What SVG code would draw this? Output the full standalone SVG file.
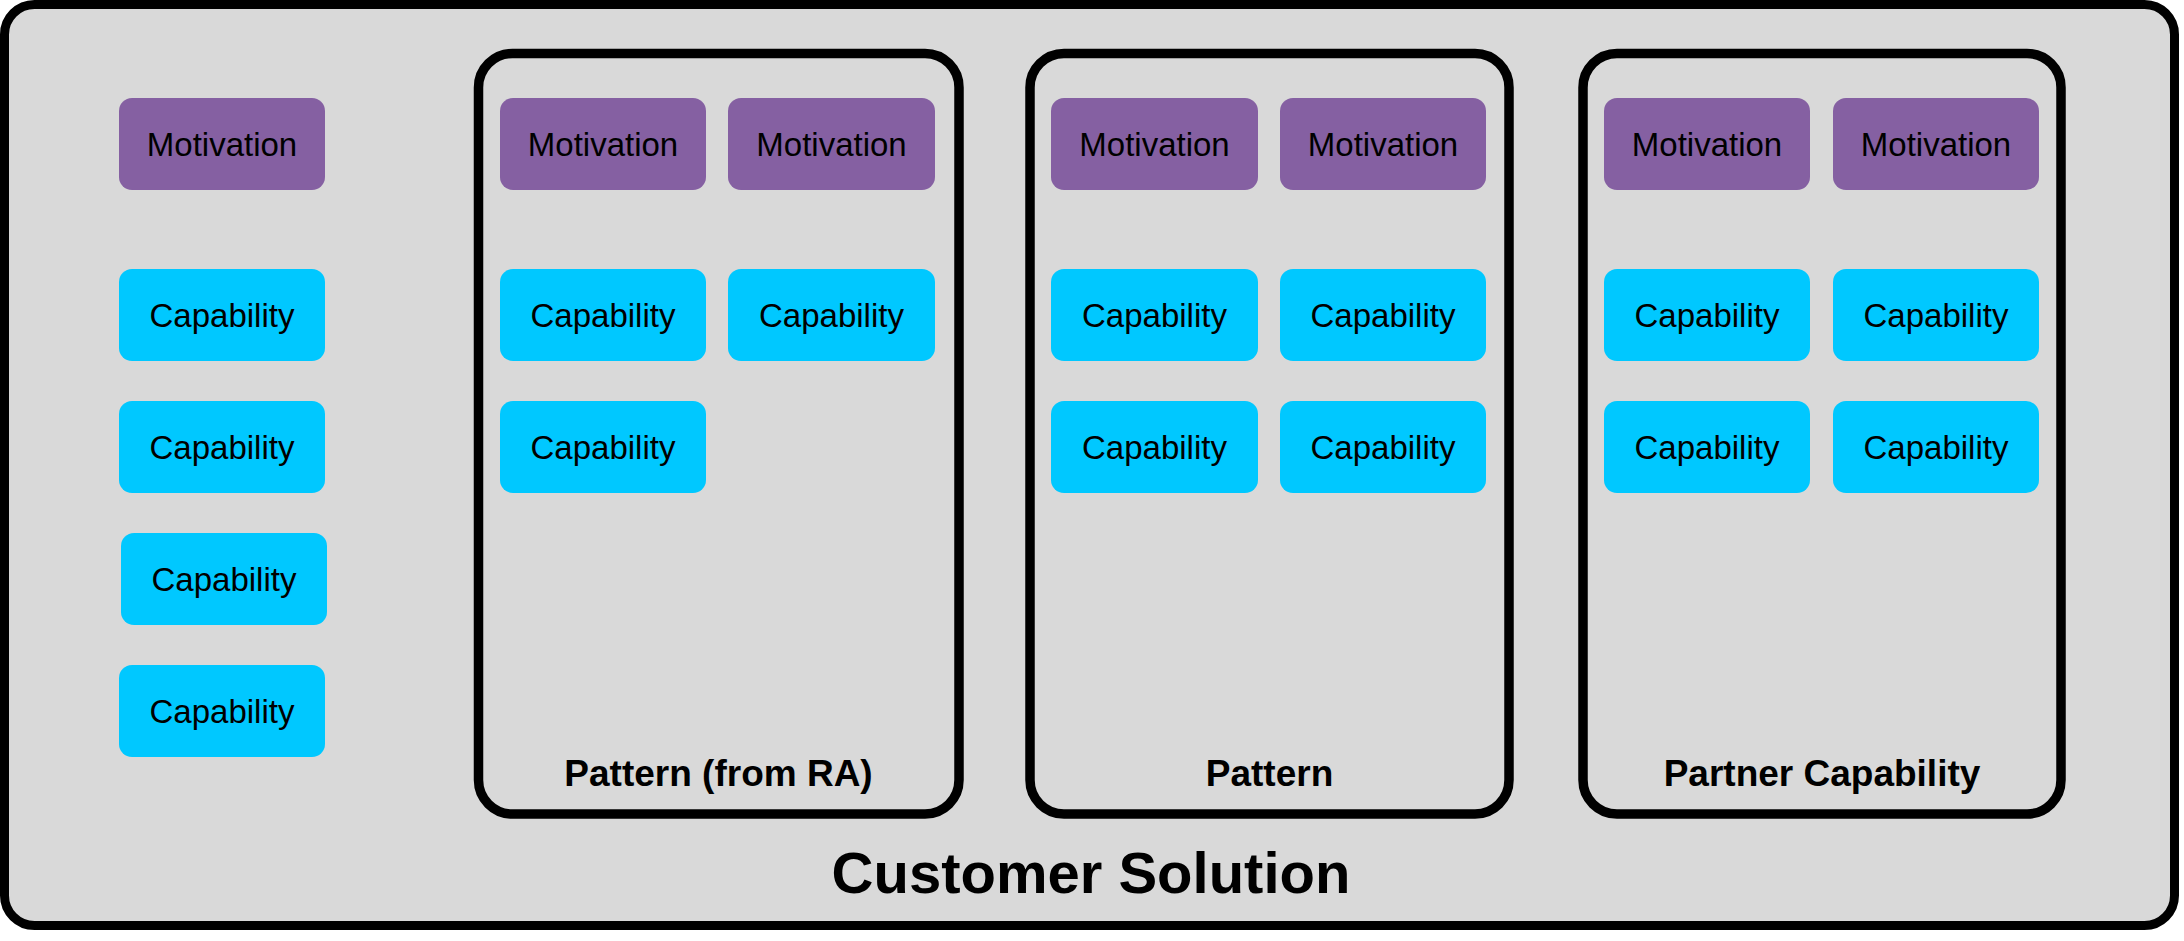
<svg xmlns="http://www.w3.org/2000/svg" width="2184" height="941" viewBox="0 0 2184 941">
<style>
.bg{fill:#ffffff}
.outer{fill:#d9d9d9;stroke:#000;stroke-width:9}
.grp{fill:none;stroke:#000;stroke-width:9.5}
.mot{fill:#8560a2}
.cap{fill:#00c8ff}
.t{font-family:"Liberation Sans",Arial,sans-serif;font-size:33px;fill:#000;text-anchor:middle}
.gl{font-family:"Liberation Sans",Arial,sans-serif;font-size:37px;font-weight:bold;fill:#000;text-anchor:middle}
.title{font-family:"Liberation Sans",Arial,sans-serif;font-size:58px;font-weight:bold;fill:#000;text-anchor:middle}
</style>
<rect class="bg" x="0" y="0" width="2184" height="941"/>
<g id="customer-solution">
<rect class="outer" x="4.5" y="4.5" width="2170" height="921" rx="30" ry="30"/>
<text class="title" x="1091" y="893">Customer Solution</text>
</g>
<g id="pattern-from-ra">
<rect class="grp" x="478.5" y="53.5" width="480.5" height="760.5" rx="34" ry="34"/>
<text class="gl" x="718.5" y="786">Pattern (from RA)</text>
</g>
<g id="pattern">
<rect class="grp" x="1030" y="53.5" width="479" height="760.5" rx="34" ry="34"/>
<text class="gl" x="1269.5" y="786">Pattern</text>
</g>
<g id="partner-capability">
<rect class="grp" x="1583" y="53.5" width="478" height="760.5" rx="34" ry="34"/>
<text class="gl" x="1822" y="786">Partner Capability</text>
</g>
<g id="left-motivation"><rect class="mot" x="119" y="98" width="206" height="92" rx="13"/><text class="t" x="222" y="156">Motivation</text></g>
<g id="left-cap-1"><rect class="cap" x="119" y="269" width="206" height="92" rx="13"/><text class="t" x="222" y="327">Capability</text></g>
<g id="left-cap-2"><rect class="cap" x="119" y="401" width="206" height="92" rx="13"/><text class="t" x="222" y="459">Capability</text></g>
<g id="left-cap-3"><rect class="cap" x="121" y="533" width="206" height="92" rx="13"/><text class="t" x="224" y="591">Capability</text></g>
<g id="left-cap-4"><rect class="cap" x="119" y="665" width="206" height="92" rx="13"/><text class="t" x="222" y="723">Capability</text></g>
<g id="ra-mot-1"><rect class="mot" x="500" y="98" width="206" height="92" rx="13"/><text class="t" x="603" y="156">Motivation</text></g>
<g id="ra-mot-2"><rect class="mot" x="728" y="98" width="207" height="92" rx="13"/><text class="t" x="831.5" y="156">Motivation</text></g>
<g id="ra-cap-1"><rect class="cap" x="500" y="269" width="206" height="92" rx="13"/><text class="t" x="603" y="327">Capability</text></g>
<g id="ra-cap-2"><rect class="cap" x="728" y="269" width="207" height="92" rx="13"/><text class="t" x="831.5" y="327">Capability</text></g>
<g id="ra-cap-3"><rect class="cap" x="500" y="401" width="206" height="92" rx="13"/><text class="t" x="603" y="459">Capability</text></g>
<g id="p-mot-1"><rect class="mot" x="1051" y="98" width="207" height="92" rx="13"/><text class="t" x="1154.5" y="156">Motivation</text></g>
<g id="p-mot-2"><rect class="mot" x="1280" y="98" width="206" height="92" rx="13"/><text class="t" x="1383" y="156">Motivation</text></g>
<g id="p-cap-1"><rect class="cap" x="1051" y="269" width="207" height="92" rx="13"/><text class="t" x="1154.5" y="327">Capability</text></g>
<g id="p-cap-2"><rect class="cap" x="1280" y="269" width="206" height="92" rx="13"/><text class="t" x="1383" y="327">Capability</text></g>
<g id="p-cap-3"><rect class="cap" x="1051" y="401" width="207" height="92" rx="13"/><text class="t" x="1154.5" y="459">Capability</text></g>
<g id="p-cap-4"><rect class="cap" x="1280" y="401" width="206" height="92" rx="13"/><text class="t" x="1383" y="459">Capability</text></g>
<g id="pc-mot-1"><rect class="mot" x="1604" y="98" width="206" height="92" rx="13"/><text class="t" x="1707" y="156">Motivation</text></g>
<g id="pc-mot-2"><rect class="mot" x="1833" y="98" width="206" height="92" rx="13"/><text class="t" x="1936" y="156">Motivation</text></g>
<g id="pc-cap-1"><rect class="cap" x="1604" y="269" width="206" height="92" rx="13"/><text class="t" x="1707" y="327">Capability</text></g>
<g id="pc-cap-2"><rect class="cap" x="1833" y="269" width="206" height="92" rx="13"/><text class="t" x="1936" y="327">Capability</text></g>
<g id="pc-cap-3"><rect class="cap" x="1604" y="401" width="206" height="92" rx="13"/><text class="t" x="1707" y="459">Capability</text></g>
<g id="pc-cap-4"><rect class="cap" x="1833" y="401" width="206" height="92" rx="13"/><text class="t" x="1936" y="459">Capability</text></g>
<g id="connectors"></g>
</svg>
